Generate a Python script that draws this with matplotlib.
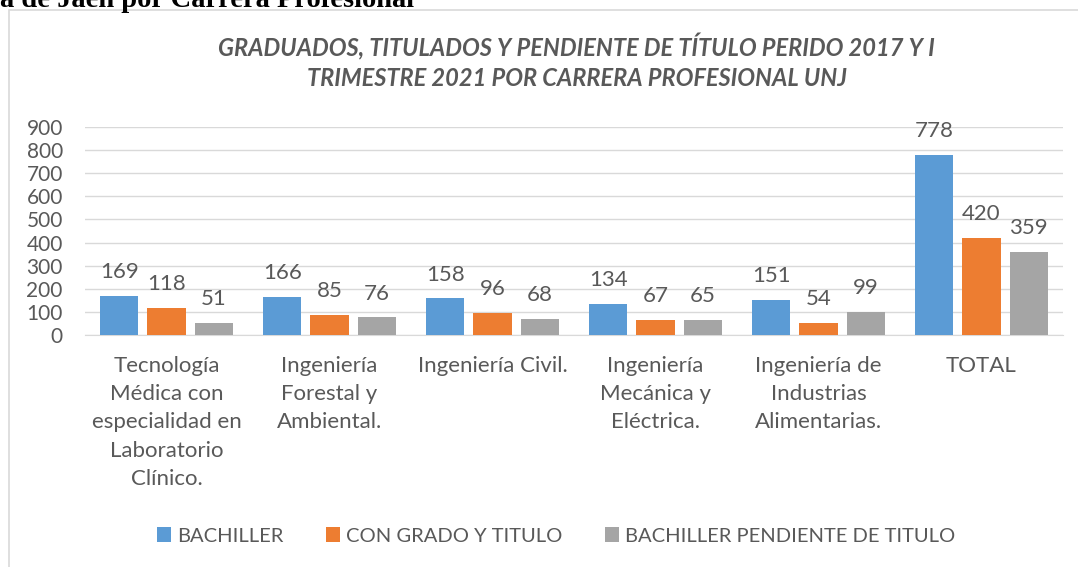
import numpy as np
import matplotlib.pyplot as plt
from matplotlib.patches import Rectangle

# Data
carreras = [
    "Tecnología\nMédica con\nespecialidad en\nLaboratorio\nClínico.",
    "Ingeniería\nForestal y\nAmbiental.",
    "Ingeniería Civil.",
    "Ingeniería\nMecánica y\nEléctrica.",
    "Ingeniería de\nIndustrias\nAlimentarias.",
    "TOTAL",
]
bachiller = [169, 166, 158, 134, 151, 778]
con_grado = [118, 85, 96, 67, 54, 420]
pendiente = [51, 76, 68, 65, 99, 359]
series_names = ["BACHILLER", "CON GRADO Y TITULO", "BACHILLER PENDIENTE DE TITULO"]
colors = ["#5B9BD5", "#ED7D31", "#A5A5A5"]

plt.rcParams['font.family'] = ['Lato', 'DejaVu Sans']
txt = "#595959"

fig = plt.figure(figsize=(10.78, 5.67), dpi=100)

# chart frame
fig.patches.append(Rectangle((9 / 1078, -0.1), 1.2, 1 - 10 / 567 + 0.1,
                             transform=fig.transFigure, fill=False,
                             edgecolor="#D9D9D9", linewidth=1.2))

# caption of the document above the chart (cut by the page edge, as in the reference)
fig.text(0.0, 1 - 7 / 567, "a de Jaén por Carrera Profesional", family="Liberation Serif",
         fontweight="bold", fontsize=20.5, color="black", ha="left", va="baseline")

ax = fig.add_axes([85 / 1078, 1 - 335 / 567, (1063 - 85) / 1078, (335 - 127) / 567])

x = np.arange(len(carreras))
w = 0.235
off = 0.29
for i, (vals, name) in enumerate(zip([bachiller, con_grado, pendiente], series_names)):
    bars = ax.bar(x + (i - 1) * off, vals, w, color=colors[i], label=name, zorder=3)
    ax.bar_label(bars, padding=10, fontsize=16, color=txt)

ax.set_xlim(-0.5, len(carreras) - 0.5)
ax.set_ylim(0, 900)
ax.set_yticks(range(0, 901, 100))
ax.grid(axis="y", color="#D9D9D9", linewidth=1, zorder=0)
for s in ["top", "right", "left"]:
    ax.spines[s].set_visible(False)
ax.spines["bottom"].set_color("#D9D9D9")
ax.set_xticks(x, carreras)
ax.tick_params(axis="both", length=0, labelcolor=txt)
ax.tick_params(axis="x", pad=15, labelsize=16)
ax.tick_params(axis="y", pad=16, labelsize=15)
for lab in ax.get_xticklabels():
    lab.set_linespacing(1.52)

fig.text(0.535, 1 - 62 / 567, "GRADUADOS, TITULADOS Y PENDIENTE DE TÍTULO PERIDO 2017 Y I\nTRIMESTRE 2021 POR CARRERA PROFESIONAL UNJ",
         ha="center", va="center", fontsize=17, fontstyle="italic", fontweight="bold",
         color=txt, linespacing=1.35)

fig.legend(loc="center", bbox_to_anchor=(556 / 1078, 1 - 536 / 567), ncol=3, frameon=False,
           fontsize=14.5, labelcolor=txt, handlelength=0.7, handleheight=0.7,
           columnspacing=2.1, handletextpad=0.3, borderpad=0)

fig.savefig("out.png", dpi=100)
